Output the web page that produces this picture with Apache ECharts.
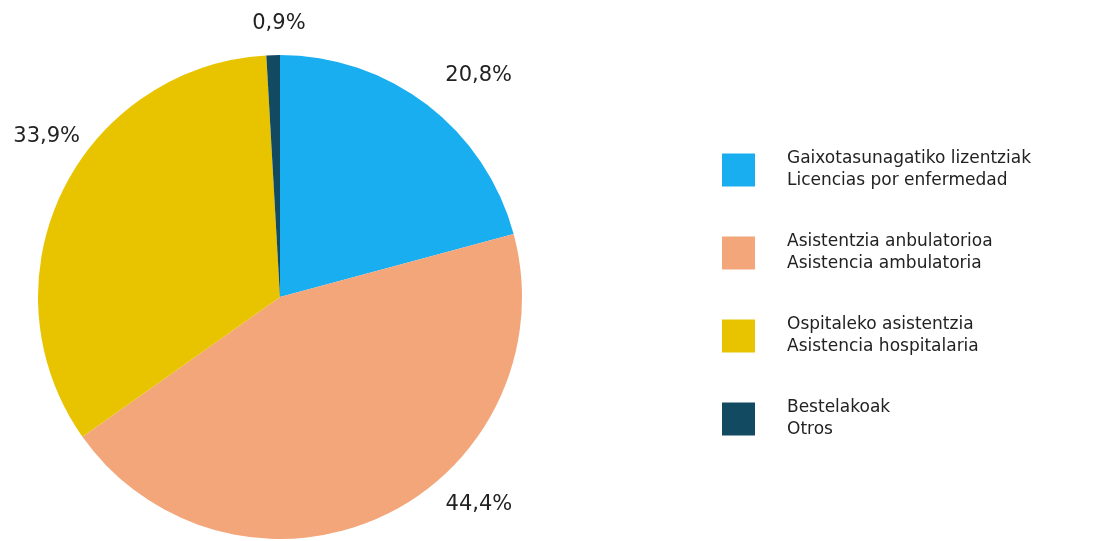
<!DOCTYPE html>
<html>
<head>
<meta charset="utf-8">
<script src="https://cdn.jsdelivr.net/npm/echarts@6/dist/echarts.min.js"></script>
<style>html,body{margin:0;padding:0;background:#fff;}#c{width:1119px;height:541px;}</style>
</head>
<body>
<div id="c"></div>
<script>
const categories = [
  'Gaixotasunagatiko lizentziak\nLicencias por enfermedad',
  'Asistentzia anbulatorioa\nAsistencia ambulatoria',
  'Ospitaleko asistentzia\nAsistencia hospitalaria',
  'Bestelakoak\nOtros'
];
const values = [20.8, 44.4, 33.9, 0.9];
const valueLabels = ['20,8%', '44,4%', '33,9%', '0,9%'];
const colors = ['#19aef0', '#f2a67a', '#e8c400', '#124a62'];
const labelOffsets = [[1, -13], [49, -30], [41, -47], [38, -12]];

const chart = echarts.init(document.getElementById('c'));
chart.setOption({
  backgroundColor: '#fff',
  animation: false,
  color: colors,
  legend: {
    orient: 'vertical',
    left: 722,
    top: 148,
    padding: 0,
    itemWidth: 33,
    itemHeight: 33,
    itemGap: 39,
    icon: 'rect',
    textStyle: {fontFamily: 'DejaVu Sans', fontSize: 17, lineHeight: 22, color: '#222', padding: [0, 0, 0, 27]},
    data: categories
  },
  series: [{
    type: 'pie',
    center: [280, 297],
    radius: 242,
    startAngle: 90,
    clockwise: true,
    data: categories.map((n, i) => ({name: n, value: values[i], label: {offset: labelOffsets[i]}})),
    label: {
      show: true,
      position: 'outside',
      overflow: 'none',
      formatter: p => valueLabels[p.dataIndex],
      fontFamily: 'DejaVu Sans',
      fontSize: 21,
      color: '#222'
    },
    labelLine: {show: false, length: 20, length2: 0},
    itemStyle: {borderWidth: 0}
  }]
});
</script>
</body>
</html>
